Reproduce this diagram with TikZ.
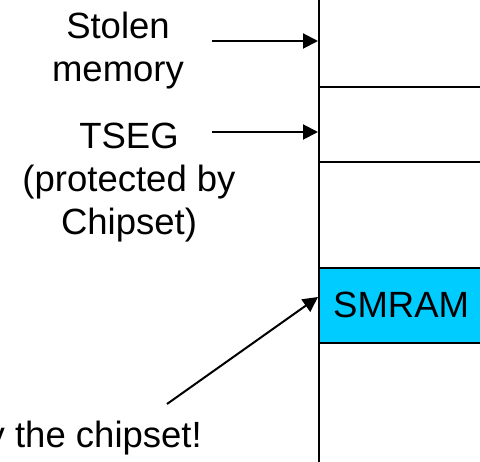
\documentclass[tikz,border=0pt]{standalone}
\usepackage{fontspec}
\setmainfont{Liberation Sans}
\usetikzlibrary{arrows.meta,positioning}
\definecolor{smramblue}{HTML}{00CCFF}
\tikzset{
  labeltext/.style={align=center, font=\fontsize{36.5}{43}\selectfont, inner sep=0pt},
  mapline/.style={line width=2pt},
  pointer/.style={line width=2pt, -{Triangle[length=15pt,width=15pt]}}
}
\begin{document}
\begin{tikzpicture}[x=1pt,y=-1pt]
    \useasboundingbox (0,0) rectangle (480,462);
    \clip (0,0) rectangle (480,462);
    % memory map
    \coordinate (top) at (319,0);
    \coordinate (bottom) at (319,462);
    \fill[smramblue] (319,268) rectangle (490,343);
    \draw[mapline] (319,87) -- (490,87);
    \draw[mapline] (319,162) -- (490,162);
    \draw[mapline] (319,268) -- (490,268);
    \draw[mapline] (319,343) -- (490,343);
    \draw[mapline] (top) -- (bottom);
    \node[labeltext, anchor=base west] (smram) at (333,318) {SMRAM};
    % labels (base = last line)
    \node[labeltext, anchor=base] (stolen) at (118,82) {Stolen\\memory};
    \node[labeltext, anchor=base] (tseg) at (129,235) {TSEG\\(protected by\\Chipset)};
    \node[labeltext, anchor=base east] (note) at (202,448) {by the chipset!};
    % arrows
    \coordinate (stolentail) at (212,41);
    \coordinate (stolenhead) at (318,41);
    \coordinate (tsegtail) at (212,132);
    \coordinate (tseghead) at (318,132);
    \coordinate (notetail) at (167,404);
    \coordinate (smramhead) at (318,297);
    \draw[pointer] (stolentail) -- (stolenhead);
    \draw[pointer] (tsegtail) -- (tseghead);
    \draw[pointer] (notetail) -- (smramhead);
\end{tikzpicture}
\end{document}
